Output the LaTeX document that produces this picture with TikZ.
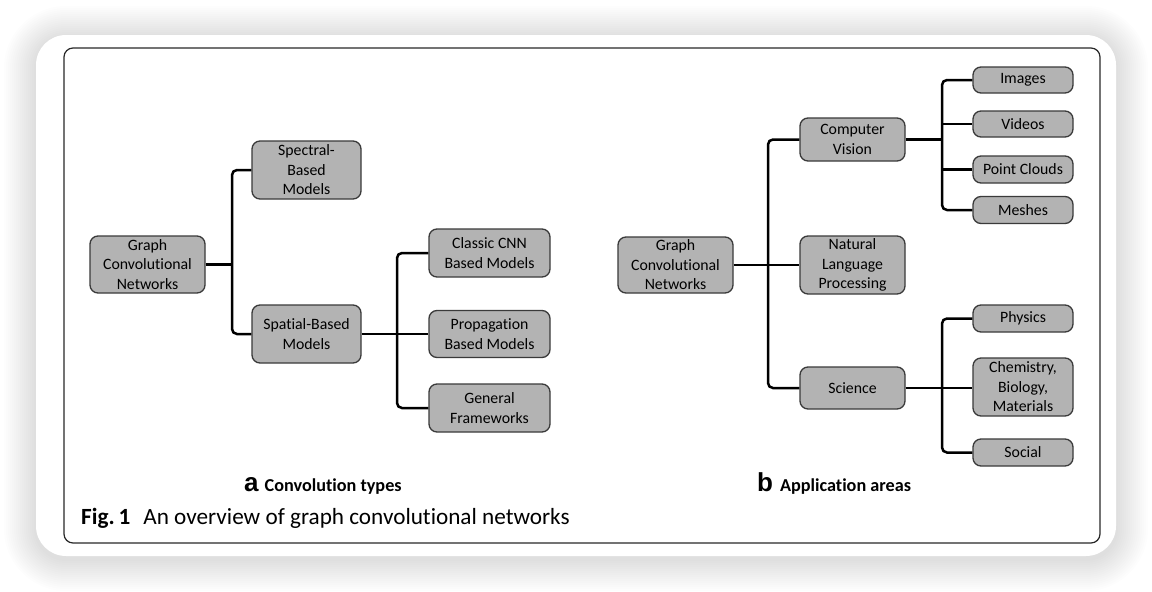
\documentclass[tikz,border=0pt]{standalone}
\usepackage{fontspec}
\setmainfont{Carlito}[Ligatures=NoCommon]
\newfontfamily\arialfont{Liberation Sans}
\definecolor{boxfill}{RGB}{179,179,179}
\definecolor{boxline}{RGB}{58,58,58}
\definecolor{frame}{RGB}{40,40,40}
\begin{document}
\begin{tikzpicture}[x=1pt,y=-1pt,
  box/.style={draw=boxline, fill=boxfill, line width=1.3pt, rounded corners=8pt,
    align=center, inner sep=0pt, font=\fontsize{15.8}{19.5}\selectfont},
  conn/.style={draw=black, line width=2.5pt, rounded corners=5pt},
  sublabel/.style={anchor=base west, inner sep=0pt},
]
\useasboundingbox (0,0) rectangle (1152,592);
\fill[white] (0,0) rectangle (1152,592);
% soft shadow of the card
\foreach \i [evaluate=\i as \r using 30+2*\i] in {1,...,16}{
  \fill[black, opacity=0.009, rounded corners={\r*1pt}]
    (36-2*\i, 38-2*\i) rectangle (1116+2*\i, 559+2*\i);
}
% card and inner frame
\fill[white, rounded corners=30pt] (36,35) rectangle (1116,556);
\draw[draw=frame, line width=1.2pt, rounded corners=9pt] (64,48) rectangle (1100,543);

% ---------- (a) convolution types ----------
\node[box, minimum width=115pt, minimum height=57pt] (g1) at (147.5,264.5) {Graph\\Convolutional\\Networks};
\node[box, minimum width=109pt, minimum height=58pt] (spec) at (306.5,170) {Spectral-\\Based\\Models};
\node[box, minimum width=109pt, minimum height=58pt] (spat) at (306.5,334) {Spatial-Based\\Models};
\node[box, minimum width=121pt, minimum height=48pt] (cls) at (489.5,253) {Classic CNN\\Based Models};
\node[box, minimum width=121pt, minimum height=47pt] (prop) at (489.5,334) {Propagation\\Based Models};
\node[box, minimum width=121pt, minimum height=48pt] (gen) at (489.5,408) {General\\Frameworks};

\coordinate (ja) at (232,264.5);
\coordinate (jb) at (397,334);
\draw[conn] (g1.east) -- (ja);
\draw[conn] (spec.west) -- (spec.west -| ja) -- (spat.west -| ja) -- (spat.west);
\draw[conn] (spat.east) -- (prop.west);
\draw[conn] (cls.west) -- (cls.west -| jb) -- (gen.west -| jb) -- (gen.west);

% ---------- (b) application areas ----------
\node[box, minimum width=115pt, minimum height=56pt] (g2) at (675.5,265) {Graph\\Convolutional\\Networks};
\node[box, minimum width=105pt, minimum height=43pt] (cv) at (852.5,139.5) {Computer\\Vision};
\node[box, minimum width=105pt, minimum height=58pt] (nlp) at (852.5,265) {Natural\\Language\\Processing};
\node[box, minimum width=105pt, minimum height=42pt] (sci) at (852.5,388) {Science};
\node[box, minimum width=100pt, minimum height=26pt] (img) at (1023,80) {Images};
\node[box, minimum width=100pt, minimum height=26pt] (vid) at (1023,124) {Videos};
\node[box, minimum width=100pt, minimum height=27pt] (pc) at (1023,169.5) {Point Clouds};
\node[box, minimum width=100pt, minimum height=27pt] (mesh) at (1023,210) {Meshes};
\node[box, minimum width=100pt, minimum height=27pt] (phy) at (1023,318.5) {Physics};
\node[box, minimum width=100pt, minimum height=58pt] (chem) at (1023,387) {Chemistry,\\Biology,\\Materials};
\node[box, minimum width=100pt, minimum height=27pt] (soc) at (1023,452.5) {Social};

\coordinate (jc) at (768,265);
\coordinate (jd) at (942,139.5);
\coordinate (je) at (942,388);
\draw[conn] (g2.east) -- (nlp.west);
\draw[conn] (cv.west) -- (cv.west -| jc) -- (sci.west -| jc) -- (sci.west);
\draw[conn] (cv.east) -- (jd);
\draw[conn] (img.west) -- (img.west -| jd) -- (mesh.west -| jd) -- (mesh.west);
\draw[conn] (vid.west -| jd) -- (vid.west);
\draw[conn] (pc.west -| jd) -- (pc.west);
\draw[conn] (sci.east) -- (sci.east -| chem.west);
\draw[conn] (phy.west) -- (phy.west -| je) -- (soc.west -| je) -- (soc.west);

% ---------- labels ----------
\node[sublabel] (la) at (244,491) {{\arialfont\bfseries\fontsize{26}{26}\selectfont a}\hspace{6pt}{\bfseries\fontsize{18.2}{20}\selectfont Convolution types}};
\node[sublabel] (lb) at (757,491) {{\arialfont\bfseries\fontsize{26}{26}\selectfont b}\hspace{7pt}{\bfseries\fontsize{18.2}{20}\selectfont Application areas}};
\node[sublabel] (cap) at (81,524) {\fontsize{23.2}{26}\selectfont\textbf{Fig.\,1}\hspace{13pt}An overview of graph convolutional networks};
\end{tikzpicture}
\end{document}
